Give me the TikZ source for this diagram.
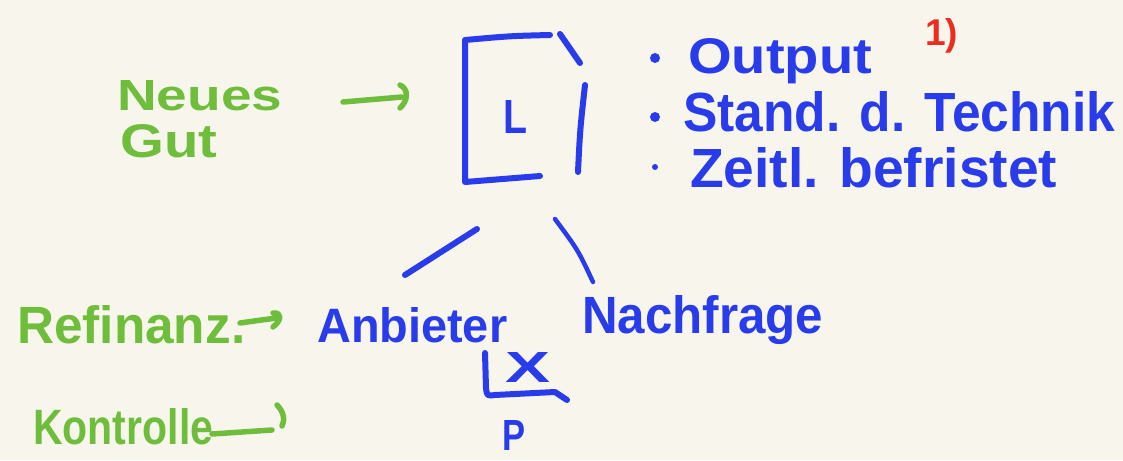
\documentclass[tikz,border=0pt]{standalone}
\usepackage{fontspec}
\setmainfont{Liberation Sans}
\definecolor{bg}{RGB}{248,246,236}
\definecolor{inkblue}{RGB}{40,60,235}
\definecolor{inkgreen}{RGB}{110,190,60}
\definecolor{inkred}{RGB}{235,45,30}
\newcommand\hw[3]{\resizebox{#1pt}{#2pt}{\bfseries #3}}
\tikzset{
  txt/.style={inner sep=0pt, anchor=base west},
  bluetxt/.style={txt, text=inkblue},
  greentxt/.style={txt, text=inkgreen},
  bluestroke/.style={draw=inkblue, line width=6pt, line cap=round, line join=round},
  greenstroke/.style={draw=inkgreen, line width=5.5pt, line cap=round, line join=round},
}
\begin{document}
\begin{tikzpicture}[x=1pt,y=-1pt]
\fill[bg] (0,0) rectangle (1123,460);
\useasboundingbox (0,0) rectangle (1123,460);

% green labels
\node[greentxt] (neues) at (117,110) {\hw{165}{30}{Neues}};
\node[greentxt] (gut) at (120,157) {\hw{97}{33}{Gut}};
\node[greentxt] (refin) at (17,343) {\hw{228}{38}{Refinanz.}};
\node[greentxt] (kontr) at (33,444) {\hw{180}{36}{Kontrolle}};

% box with L
\node[bluetxt] (L) at (503,133) {\hw{24}{33}{L}};
\draw[bluestroke] (550,35) .. controls (510,36) .. (465,40) -- (465,182) -- (540,176);
\draw[bluestroke] (560,34) -- (580,63);
\draw[bluestroke] (585,85) .. controls (580,130) .. (578,172);

% list
\fill[inkblue] (655,58) circle (5pt);
\fill[inkblue] (655,117) circle (5pt);
\fill[inkblue] (655,167) circle (3pt);
\node[bluetxt] (output) at (688,73) {\hw{184}{35}{Output}};
\node[bluetxt] (stand) at (683,131) {\hw{432}{40}{Stand. d. Technik}};
\node[bluetxt] (zeit) at (690,187) {\hw{367}{40}{Zeitl. befristet}};
\node[txt, text=inkred] (one) at (925,46) {\hw{33}{27}{1)}};

% lower part
\node[bluetxt] (anb) at (317,342) {\hw{190}{35}{Anbieter}};
\node[bluetxt] (nach) at (582,333) {\hw{241}{38}{Nachfrage}};
\node[bluetxt] (x) at (505,382) {\hw{45}{30}{X}};
\node[bluetxt] (p) at (502,450) {\hw{23}{30}{P}};
\draw[bluestroke] (485,353) -- (486,388) .. controls (487,396) .. (495,395) -- (555,392) -- (567,400);

% green connectors with hand-drawn hook tips
\coordinate (gA) at (343,102);
\coordinate (gB) at (402,97);
\draw[greenstroke] (gA) -- (gB);
\draw[greenstroke, shift={(gB)}] (-2,-12) .. controls (7,-8) and (6,4) .. (-2,11);
\coordinate (rA) at (240,323);
\coordinate (rB) at (276,318);
\draw[greenstroke] (rA) -- (rB);
\draw[greenstroke, shift={(rB)}] (-3,-5) .. controls (6,-6) and (6,2) .. (-3,9);
\coordinate (kA) at (212,434);
\coordinate (kB) at (272,430);
\draw[greenstroke] (kA) -- (kB);
\draw[greenstroke, shift={(kB)}] (5,-25) .. controls (12,-18) and (13,-10) .. (10,-4);

% blue connectors from the box to the two sides
\coordinate (l1) at (477,229);
\coordinate (l2) at (405,275);
\draw[bluestroke] (l1) -- (l2);
\coordinate (r1) at (555,219);
\coordinate (r2) at (593,282);
\draw[bluestroke, line width=4.5pt] (r1) .. controls (578,250) .. (r2);
\end{tikzpicture}
\end{document}
